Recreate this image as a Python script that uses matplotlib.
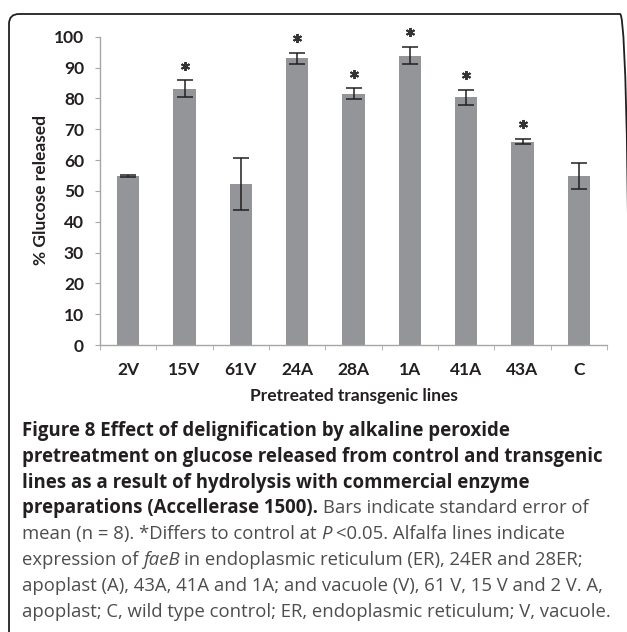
import matplotlib.pyplot as plt
import numpy as np
from matplotlib.patches import FancyBboxPatch
from matplotlib.transforms import IdentityTransform

# values
lines = ["2V", "15V", "61V", "24A", "28A", "1A", "41A", "43A", "C"]
glucose = [54.8, 83.1, 52.3, 93.0, 81.5, 93.8, 80.4, 66.0, 54.9]
sem = [0.2, 2.7, 8.5, 1.8, 1.7, 2.8, 2.4, 0.8, 4.2]
significant = [False, True, False, True, True, True, True, True, False]

caption = [
    [("Figure 8 Effect of delignification by alkaline peroxide", "b")],
    [("pretreatment on glucose released from control and transgenic", "b")],
    [("lines as a result of hydrolysis with commercial enzyme", "b")],
    [("preparations (Accellerase 1500).", "b"), (" Bars indicate standard error of", "r")],
    [("mean (n = 8). *Differs to control at ", "r"), ("P", "i"), (" <0.05. Alfalfa lines indicate", "r")],
    [("expression of ", "r"), ("faeB", "i"), (" in endoplasmic reticulum (ER), 24ER and 28ER;", "r")],
    [("apoplast (A), 43A, 41A and 1A; and vacuole (V), 61 V, 15 V and 2 V. A,", "r")],
    [("apoplast; C, wild type control; ER, endoplasmic reticulum; V, vacuole.", "r")],
]

W, H = 627, 632
BAR = "#939598"
INK = "#231f20"
CHART_FONT = "Lato"
CAP_FONT = "Open Sans"
CHART_SIZE = 12.5

fig = plt.figure(figsize=(W / 100, H / 100), dpi=100)
ax = fig.add_axes([100 / W, 1 - 345 / H, 507 / W, 308.3 / H])

x = np.arange(len(lines))
ax.bar(x, glucose, width=0.4, color=BAR, zorder=2)
ax.errorbar(x, glucose, yerr=sem, fmt="none", ecolor=INK, elinewidth=1.1,
            capsize=5.5, capthick=1.1, zorder=3)
sig = np.array(significant)
star_y = np.array(glucose) + np.array(sem) + 4.8
ax.plot(x[sig], star_y[sig], linestyle="none", marker=(6, 2, 0), ms=6.5,
        mew=1.4, color="#333333", zorder=4, clip_on=False)

ax.set_xlim(-0.5, len(lines) - 0.5)
ax.set_ylim(0, 100)
ax.set_yticks(np.arange(0, 101, 10))
ax.set_xticks(x)
ax.set_xticklabels(lines)
ax.set_xticks(np.arange(-0.5, len(lines)), minor=True)
for s in ["top", "right"]:
    ax.spines[s].set_visible(False)
for s in ["left", "bottom"]:
    ax.spines[s].set_color("#a6a6a6")
    ax.spines[s].set_linewidth(1.0)
ax.tick_params(axis="x", which="major", length=0, pad=12)
ax.tick_params(axis="x", which="minor", length=3.6, color="#a6a6a6", direction="out")
ax.tick_params(axis="y", length=3.6, color="#a6a6a6", pad=8)
for lab in ax.get_xticklabels() + ax.get_yticklabels():
    lab.set_fontfamily(CHART_FONT)
    lab.set_fontweight("bold")
    lab.set_fontsize(CHART_SIZE)
    lab.set_color(INK)

px = IdentityTransform()
fig.text(353.5, H - 396, "Pretreated transgenic lines", transform=px, ha="center",
         va="center", family=CHART_FONT, weight="bold", fontsize=CHART_SIZE, color=INK)
fig.text(41.5, H - 190, "% Glucose released", transform=px, ha="center", va="center",
         rotation=90, family=CHART_FONT, weight="bold", fontsize=CHART_SIZE, color=INK)

# rounded frame, cut by the right and bottom edges
frame = FancyBboxPatch((9, -30), 621, H - 14 + 30, boxstyle="round,pad=0,rounding_size=10",
                       transform=px, fill=False, edgecolor=INK, linewidth=1.3)
fig.patches.append(frame)

# caption, drawn piece by piece so bold / italic can share a line
styles = {
    "b": dict(family=CAP_FONT, weight="bold", color=INK, fontsize=13.4),
    "r": dict(family=CAP_FONT, weight="normal", color="#4d4d4d", fontsize=13.3),
    "i": dict(family=CAP_FONT, weight="normal", style="italic", color="#4d4d4d", fontsize=13.3),
}
renderer = fig.canvas.get_renderer()


def text_width(s, st):
    t = fig.text(0, 0, s, transform=px, **styles[st])
    w = t.get_window_extent(renderer).width
    t.remove()
    return w


for i, pieces in enumerate(caption):
    y = H - (436 + 25.8 * i)
    cx = 22
    for s, st in pieces:
        space = text_width("a a", st) - text_width("aa", st)
        if s.startswith(" "):
            cx += space
        t = fig.text(cx, y, s.strip(), transform=px, va="baseline", **styles[st])
        cx += t.get_window_extent(renderer).width
        if s.endswith(" "):
            cx += space

fig.savefig("out.png", dpi=100)
